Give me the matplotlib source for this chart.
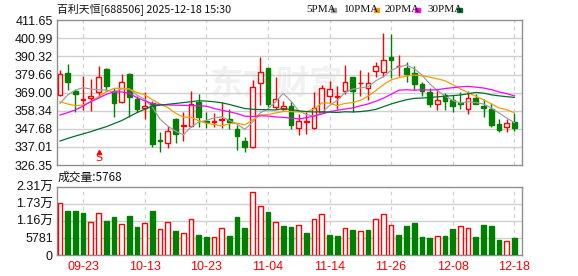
import numpy as np
import matplotlib.pyplot as plt

# ---- data ----
dates = ['09-18', '09-19', '09-22', '09-23', '09-24', '09-25', '09-26', '09-29', '09-30', '10-09',
         '10-10', '10-13', '10-14', '10-15', '10-16', '10-17', '10-20', '10-21', '10-22', '10-23',
         '10-24', '10-27', '10-28', '10-29', '10-30', '10-31', '11-03', '11-04', '11-05', '11-06',
         '11-07', '11-10', '11-11', '11-12', '11-13', '11-14', '11-17', '11-18', '11-19', '11-20',
         '11-21', '11-24', '11-25', '11-26', '11-27', '11-28', '12-01', '12-02', '12-03', '12-04',
         '12-05', '12-08', '12-09', '12-10', '12-11', '12-12', '12-15', '12-16', '12-17', '12-18']

opens = [367.6, 380.3, 369.9, 364.8, 366.0, 369.1, 382.9, 370.2, 363.3, 380.0,
         365.5, 359.8, 362.9, 341.1, 339.2, 353.2, 349.6, 349.3, 363.2, 352.3,
         351.7, 353.1, 353.2, 347.4, 340.5, 337.1, 374.5, 383.3, 360.3, 359.6,
         361.3, 347.9, 351.6, 347.9, 357.8, 367.0, 366.7, 370.2, 378.0, 374.4,
         371.5, 381.9, 381.3, 390.0, 384.4, 383.6, 380.4, 374.0, 369.3, 362.1,
         367.6, 364.6, 362.9, 359.2, 365.6, 361.4, 359.2, 350.4, 348.6, 351.7]
highs = [382.3, 385.9, 371.1, 378.8, 377.0, 384.7, 383.2, 371.7, 380.0, 380.3,
         367.0, 369.4, 364.1, 345.8, 349.3, 354.0, 357.7, 369.9, 368.0, 357.8,
         357.0, 363.3, 359.2, 349.9, 343.0, 376.4, 390.2, 383.5, 378.4, 364.0,
         364.0, 356.2, 357.7, 369.1, 373.5, 376.0, 373.1, 385.3, 378.2, 382.3,
         381.0, 387.2, 403.9, 403.3, 391.2, 387.2, 384.7, 375.4, 371.5, 371.1,
         368.9, 367.6, 369.4, 370.0, 367.9, 365.2, 362.9, 353.5, 353.3, 357.0]
lows = [367.0, 370.5, 357.4, 358.8, 358.3, 366.7, 369.7, 354.4, 362.8, 354.6,
        357.8, 353.7, 337.0, 334.0, 336.4, 339.3, 340.2, 349.0, 348.9, 348.3,
        348.6, 348.0, 347.4, 335.2, 334.2, 336.6, 361.7, 360.5, 359.2, 358.6,
        347.4, 343.9, 344.5, 347.6, 356.8, 362.7, 359.3, 367.9, 357.7, 366.9,
        364.5, 378.0, 378.4, 377.6, 379.0, 375.4, 370.5, 367.2, 360.7, 359.0,
        358.8, 357.8, 359.2, 356.2, 362.0, 354.4, 348.9, 346.0, 346.0, 346.6]
closes = [379.8, 375.0, 368.4, 365.3, 367.0, 378.0, 373.1, 362.9, 375.2, 366.6,
          359.6, 361.3, 339.0, 340.2, 346.4, 344.6, 350.2, 362.1, 354.8, 351.4,
          352.1, 353.5, 351.5, 343.6, 336.8, 372.5, 381.3, 362.5, 365.1, 361.3,
          350.0, 352.3, 352.0, 360.1, 371.5, 371.1, 367.1, 375.4, 369.9, 374.9,
          374.5, 384.6, 388.2, 388.3, 384.8, 379.8, 374.2, 370.0, 362.2, 364.7,
          364.0, 361.4, 362.0, 365.6, 362.3, 360.2, 349.9, 347.0, 350.9, 348.3]
prev_close = 368.0

ma5 = [362.7, 367.6, 370.5, 371.9, 371.1, 370.7, 370.4, 369.3, 371.2, 371.2,
       367.5, 365.1, 360.3, 353.3, 349.3, 346.3, 344.1, 348.7, 351.6, 352.6,
       354.1, 354.7, 352.6, 350.4, 347.4, 351.6, 357.1, 359.3, 363.6, 368.5,
       364.0, 358.2, 356.1, 355.1, 357.2, 361.4, 364.4, 369.0, 371.0, 371.7,
       372.4, 375.9, 378.4, 382.1, 384.1, 385.2, 383.1, 379.4, 374.2, 370.2,
       367.0, 364.4, 362.9, 363.6, 363.1, 362.3, 360.0, 357.0, 354.1, 351.3]
ma10 = [363.6, 362.3, 361.3, 361.7, 363.6, 366.6, 369.5, 371.5, 371.5, 371.1,
        369.1, 367.7, 364.8, 362.3, 360.2, 356.9, 354.6, 354.5, 352.5, 351.0,
        350.2, 349.4, 350.7, 351.0, 350.0, 352.8, 355.9, 356.0, 357.0, 357.9,
        357.8, 357.7, 357.8, 359.4, 362.9, 362.8, 361.3, 362.6, 363.1, 364.4,
        366.9, 370.1, 373.7, 376.5, 377.8, 378.7, 379.4, 378.9, 378.1, 377.1,
        376.0, 373.7, 371.2, 369.0, 366.8, 364.8, 362.4, 360.0, 358.9, 357.2]
ma20 = [355.8, 357.2, 358.8, 361.1, 363.7, 365.7, 368.0, 369.4, 369.4, 368.6,
        366.0, 364.2, 362.5, 361.9, 361.7, 361.6, 361.5, 361.4, 361.2, 361.0,
        359.7, 358.6, 357.7, 356.6, 355.1, 354.9, 355.3, 355.2, 354.7, 354.4,
        354.0, 353.5, 354.2, 355.2, 356.4, 357.7, 358.6, 359.3, 360.0, 361.2,
        362.3, 363.9, 365.7, 368.0, 370.4, 370.7, 370.4, 370.7, 370.5, 370.7,
        371.4, 371.9, 372.4, 372.7, 372.2, 371.7, 370.8, 369.4, 368.4, 367.1]
ma30 = [340.5, 342.0, 343.4, 344.7, 346.0, 347.5, 348.9, 350.7, 352.5, 354.9,
        357.2, 359.2, 361.1, 361.6, 362.1, 362.6, 363.1, 363.6, 364.2, 364.0,
        363.6, 363.0, 362.0, 360.8, 359.6, 359.2, 359.0, 358.9, 358.8, 359.6,
        359.0, 358.3, 357.8, 357.6, 357.7, 357.5, 357.3, 357.7, 357.6, 357.8,
        358.3, 359.1, 360.7, 362.3, 363.6, 364.8, 365.6, 365.8, 366.1, 366.5,
        366.9, 367.2, 367.6, 368.3, 369.1, 368.7, 367.7, 367.1, 366.6, 366.2]

volumes = [17500, 14900, 14900, 14330, 11070, 14120, 11510, 12760, 10390, 13200,
           9480, 10730, 14900, 8800, 11280, 8130, 7340, 12190, 6770, 6100,
           6100, 9030, 6430, 12980, 9250, 21440, 16480, 14450, 11070, 9820,
           9590, 10160, 7560, 12190, 13780, 6770, 6430, 9030, 8470, 8130,
           8470, 12190, 13780, 10160, 6770, 9820, 10840, 6100, 5760, 6430,
           6430, 8920, 9710, 9140, 6100, 10160, 9820, 5080, 4630, 5768]

price_ticks = [326.35, 337.01, 347.68, 358.34, 369.00, 379.66, 390.32, 400.99, 411.65]
price_labels = ['326.35', '337.01', '347.68', '358.34', '369.00', '379.66', '390.32', '400.99', '411.65']
vol_ticks = [0, 5781, 11562, 17343, 23124]
vol_labels = ['0', '5781', '1.16万', '1.73万', '2.31万']
tick_dates = ['09-23', '10-13', '10-23', '11-04', '11-14', '11-26', '12-08', '12-18']
signal_idx = 5

title = '百利天恒[688506] 2025-12-18 15:30'
ma_names = ['5PMA', '10PMA', '20PMA', '30PMA']

RED = '#ff0000'
GREEN = '#008000'
ma_colors = ['#a0a0a0', '#f0a000', '#ff00ff', '#006f30']
GRID = '#d0d0d0'
FRAME = '#909090'

plt.rcParams['font.family'] = ['Liberation Sans', 'Noto Sans CJK SC', 'DejaVu Sans']

W, H = 578, 276
fig = plt.figure(figsize=(W / 100, H / 100), dpi=100)
fig.patch.set_facecolor('white')

def box(l, t, r, b):
    return [l / W, 1 - b / H, (r - l) / W, (b - t) / H]

ax = fig.add_axes(box(57, 20.2, 522, 165))
axv = fig.add_axes(box(57, 186.7, 522, 255))

x = np.arange(len(dates))
o = np.array(opens); c = np.array(closes)
hi = np.array(highs); lo = np.array(lows)
up = c >= o
bw = 0.6

# candles
for i in x:
    col = RED if up[i] else GREEN
    ax.vlines(i, lo[i], hi[i], color=col, lw=1, zorder=2)
    bot = min(o[i], c[i])
    h = max(abs(c[i] - o[i]), 0.35)
    ax.bar(i, h, bottom=bot, width=bw, facecolor='white' if up[i] else GREEN,
           edgecolor=col, lw=1, zorder=3)

for vals, col in zip([ma5, ma10, ma20, ma30], ma_colors):
    ax.plot(x, vals, color=col, lw=0.9, zorder=4)

# signal marker
ax.text(signal_idx, 330.6, 'S', color=RED, fontsize=8, ha='center', va='center',
        family='DejaVu Sans', zorder=5)
ax.plot(signal_idx, 334.2, marker='^', ms=3, color=RED, zorder=5)

# watermark
ax.text(0.47, 0.55, '东方财富', transform=ax.transAxes, fontsize=24, weight='bold',
        color='#f1f1f1', ha='center', va='center', zorder=0, family='Noto Sans CJK SC')

# volume
vchg = np.diff(np.concatenate([[prev_close], c]))
vup = vchg >= 0
axv.bar(x, volumes, width=bw,
        facecolor=np.where(vup, 'white', GREEN).tolist(),
        edgecolor=np.where(vup, RED, GREEN).tolist(), lw=1, zorder=3)

tick_pos = [dates.index(d) for d in tick_dates]
for a in (ax, axv):
    a.set_xlim(-0.39, 60.0)
    for p in tick_pos:
        a.axvline(p, color=GRID, lw=0.9, ls=(0, (3, 3)), zorder=1)
    for s in a.spines.values():
        s.set_color(FRAME)
        s.set_linewidth(1)
    a.tick_params(length=0, pad=3, labelsize=9, colors='#111111')

ax.set_ylim(price_ticks[0], price_ticks[-1])
ax.set_yticks(price_ticks, price_labels)
for t in price_ticks[1:-1]:
    ax.axhline(t, color=GRID, lw=1, zorder=1)
ax.set_xticks([])

axv.set_ylim(vol_ticks[0], vol_ticks[-1])
axv.set_yticks(vol_ticks, vol_labels)
for t in vol_ticks[1:-1]:
    axv.axhline(t, color=GRID, lw=1, zorder=1)
axv.set_xticks(tick_pos, tick_dates)
axv.tick_params(axis='x', colors=RED, pad=4)

# header texts
fig.text(57 / W, 1 - 10 / H, title, fontsize=7.8, va='center', ha='left',
         family=['Noto Sans CJK SC', 'DejaVu Sans'], color='#111111')
fig.text(58 / W, 1 - 177.5 / H, '成交量:' + str(volumes[-1]), fontsize=8.5, va='center',
         ha='left', family=['Noto Sans CJK SC', 'DejaVu Sans'], color='#111111')

leg_x = [306, 344, 385, 427]
leg_sq = [331, 374, 415, 457]
for lx, sx, name, col in zip(leg_x, leg_sq, ma_names, ma_colors):
    fig.text(lx / W, 1 - 10 / H, name, fontsize=8, va='center', ha='left',
             family='Liberation Serif', color='#111111')
    fig.patches.append(plt.Rectangle((sx / W, 1 - 12 / H), 5 / W, 4 / H,
                                     transform=fig.transFigure, color=col))

fig.savefig('out.png', dpi=100)
